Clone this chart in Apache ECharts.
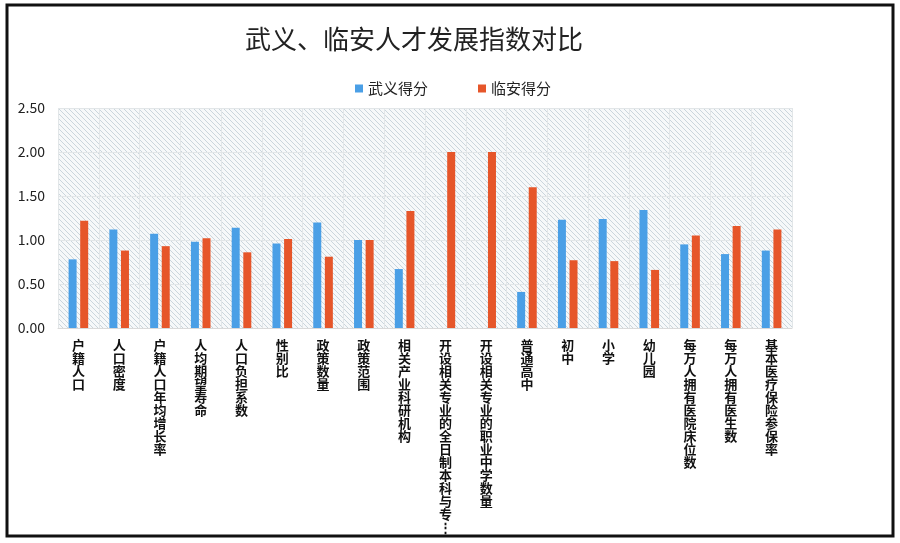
<!DOCTYPE html>
<html>
<head>
<meta charset="utf-8">
<script src="https://cdn.jsdelivr.net/npm/echarts@6/dist/echarts.min.js"></script>
<style>
  html, body { margin: 0; padding: 0; background: #fff; }
  #chart { width: 900px; height: 543px; }
</style>
</head>
<body>
<div id="chart"></div>
<script>
// 指标名称
var categories = [
  "户籍人口", "人口密度", "户籍人口年均增长率", "人均期望寿命", "人口负担系数",
  "性别比", "政策数量", "政策范围", "相关产业科研机构",
  "开设相关专业的全日制本科与专…", "开设相关专业的职业中学数量",
  "普通高中", "初中", "小学", "幼儿园",
  "每万人拥有医院床位数", "每万人拥有医生数", "基本医疗保险参保率"
];
var wuyi = [0.78, 1.12, 1.07, 0.98, 1.14, 0.96, 1.20, 1.00, 0.67, 0, 0, 0.41, 1.23, 1.24, 1.34, 0.95, 0.84, 0.88];
var linan = [1.22, 0.88, 0.93, 1.02, 0.86, 1.01, 0.81, 1.00, 1.33, 2.00, 2.00, 1.60, 0.77, 0.76, 0.66, 1.05, 1.16, 1.12];
var yTicks = ["0.00", "0.50", "1.00", "1.50", "2.00", "2.50"];

var font = "'Noto Sans CJK SC', 'Noto Sans', sans-serif";

// 斜线底纹
var hatch = document.createElement("canvas");
hatch.width = 5;
hatch.height = 5;
var ctx = hatch.getContext("2d");
ctx.fillStyle = "#f6f8f9";
ctx.fillRect(0, 0, 5, 5);
ctx.strokeStyle = "#cad5dc";
ctx.lineWidth = 1;
ctx.beginPath();
ctx.moveTo(-1, -1); ctx.lineTo(6, 6);
ctx.moveTo(-1, 4); ctx.lineTo(1, 6);
ctx.moveTo(4, -1); ctx.lineTo(6, 1);
ctx.stroke();

var myChart = echarts.init(document.getElementById("chart"));
var option = {
  backgroundColor: "#fff",
  textStyle: { fontFamily: font },
  title: {
    text: "武义、临安人才发展指数对比",
    left: 240,
    top: 21,
    textStyle: { fontSize: 26, fontWeight: "normal", color: "#222", fontFamily: font }
  },
  legend: {
    data: ["武义得分", "临安得分"],
    left: 350,
    top: 76,
    icon: "rect",
    itemWidth: 8,
    itemHeight: 8,
    itemGap: 50,
    textStyle: { fontSize: 15, color: "#222", fontFamily: font }
  },
  grid: {
    left: 58,
    top: 108,
    right: 108,
    bottom: 215,
    show: true,
    borderWidth: 0,
    backgroundColor: { image: hatch, repeat: "repeat" }
  },
  xAxis: {
    type: "category",
    data: categories,
    axisLine: { lineStyle: { color: "#d9d9d9" } },
    axisTick: { show: false },
    splitLine: { show: true, lineStyle: { color: "#e2e6e8" } },
    axisLabel: {
      interval: 0,
      margin: 11,
      fontSize: 13,
      lineHeight: 13,
      fontWeight: "bold",
      color: "#111",
      verticalAlign: "top",
      formatter: function (v) {
        return v.replace("…", "⋮").split("").join("\n");
      }
    }
  },
  yAxis: {
    type: "value",
    min: 0,
    max: 2.5,
    interval: 0.5,
    axisLine: { show: false },
    axisTick: { show: false },
    splitLine: { lineStyle: { color: "#e2e6e8" } },
    axisLabel: {
      margin: 13,
      fontSize: 14,
      color: "#222",
      formatter: function (v) { return yTicks[Math.round(v / 0.5)]; }
    }
  },
  series: [
    {
      name: "武义得分",
      type: "bar",
      data: wuyi,
      barWidth: 8,
      barGap: "45%",
      itemStyle: { color: "#4a9fe6" }
    },
    {
      name: "临安得分",
      type: "bar",
      data: linan,
      barWidth: 8,
      itemStyle: { color: "#e6562a" }
    }
  ],
  graphic: [
    {
      type: "rect",
      shape: { x: 7, y: 5, width: 886, height: 531 },
      style: { fill: null, stroke: "#111", lineWidth: 3 },
      silent: true
    }
  ]
};
myChart.setOption(option);
</script>
</body>
</html>
